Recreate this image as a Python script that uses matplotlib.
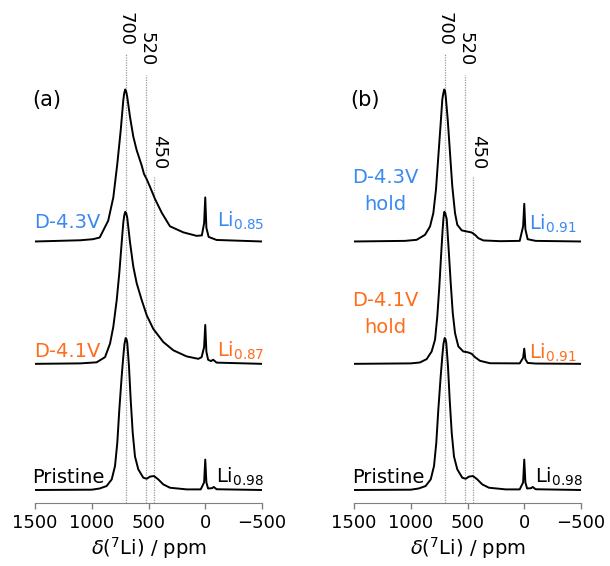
"""Stacked 7Li NMR spectra of pristine and delithiated samples, two panels."""

import matplotlib

matplotlib.use("Agg")
import matplotlib.pyplot as plt


# chemical shift (ppm) / normalised intensity
PRISTINE_PPM = [1500, 1000, 930, 869, 824, 795, 775, 757, 736, 722, 712, 701, 693, 687, 672, 657, 639,
                619, 590, 546, 516, 487, 452, 414, 370, 311, 164, 40, 10, 0, -10, -25, -60, -75, -100,
                -500]
PRISTINE_INT = [0, 0.002, 0.01, 0.026, 0.07, 0.158, 0.31, 0.53, 0.75, 0.88, 0.96, 1.0, 0.99, 0.967,
                0.814, 0.595, 0.376, 0.22, 0.136, 0.081, 0.074, 0.088, 0.092, 0.07, 0.037, 0.015,
                0.004, 0.004, 0.05, 0.20, 0.05, 0.01, 0.012, 0.02, 0.005, 0]

A_41_PPM = [1500, 1100, 957, 883, 839, 810, 780, 757, 736, 722, 714, 705, 696, 687, 663, 634, 604,
            560, 516, 458, 370, 281, 164, 61, 32, 10, 0, -10, -25, -50, -70, -100, -500]
A_41_INT = [0, 0.003, 0.01, 0.044, 0.133, 0.244, 0.42, 0.60, 0.80, 0.93, 0.975, 1.0, 0.99, 0.96,
            0.80, 0.64, 0.53, 0.42, 0.32, 0.23, 0.144, 0.089, 0.049, 0.033, 0.044, 0.11, 0.256,
            0.08, 0.027, 0.018, 0.027, 0.008, 0]

A_43_PPM = [1500, 1100, 990, 930, 855, 810, 775, 745, 722, 714, 705, 696, 687, 663, 634, 604, 560,
            540, 516, 487, 443, 384, 311, 193, 76, 30, 10, 0, -10, -30, -100, -500]
A_43_INT = [0, 0.008, 0.015, 0.026, 0.137, 0.29, 0.51, 0.73, 0.93, 0.975, 1.0, 0.985, 0.95, 0.82,
            0.69, 0.60, 0.50, 0.445, 0.41, 0.36, 0.28, 0.19, 0.10, 0.06, 0.037, 0.04, 0.12, 0.29,
            0.09, 0.03, 0.01, 0]

B_41_PPM = [1500, 1000, 919, 860, 816, 786, 766, 748, 733, 719, 711, 704, 696, 683, 666, 648, 630,
            610, 581, 537, 493, 463, 434, 390, 302, 40, 10, 0, -10, -30, -100, -500]
B_41_INT = [0, 0.003, 0.009, 0.031, 0.081, 0.159, 0.313, 0.511, 0.709, 0.885, 0.965, 1.0, 0.99,
            0.952, 0.753, 0.533, 0.335, 0.203, 0.115, 0.081, 0.075, 0.066, 0.044, 0.02, 0.004,
            0.003, 0.04, 0.10, 0.03, 0.006, 0.002, 0]

B_43_PPM = [1500, 1050, 948, 874, 830, 801, 778, 757, 736, 722, 713, 705, 698, 692, 674, 654, 634,
            610, 590, 551, 507, 463, 434, 405, 361, 214, 40, 10, 0, -10, -30, -100, -500]
B_43_INT = [0, 0.004, 0.011, 0.044, 0.099, 0.187, 0.34, 0.56, 0.78, 0.934, 0.975, 1.0, 0.99, 0.956,
            0.80, 0.58, 0.363, 0.187, 0.11, 0.073, 0.066, 0.059, 0.044, 0.022, 0.007, 0.002, 0.004,
            0.1, 0.248, 0.08, 0.015, 0.004, 0]

SAMPLE_LABELS_A = ["Pristine", "D-4.1V", "D-4.3V"]
SAMPLE_LABELS_B = ["Pristine", "D-4.1V\nhold", "D-4.3V\nhold"]
LI_LABELS_A = ["0.98", "0.87", "0.85"]
LI_LABELS_B = ["0.98", "0.91", "0.91"]
MARKER_PPM = [700, 520, 450]
X_TICKS = [1500, 1000, 500, 0, -500]

BLUE = "#3a89f2"
ORANGE = "#ff6c1c"
COLORS = ["black", ORANGE, BLUE]
OFFSETS = [0.0, 0.83, 1.635]
Y_LIM = (-0.0855, 3.2237)
PX = 1 / 152  # one pixel in data units (vertical)


def _draw_panel(axis, spectra, names, li_values, name_pos, li_pos, tag, tag_x, name_ha):
    for (ppm, inten), offset in zip(spectra, OFFSETS):
        axis.plot(ppm, [v + offset for v in inten], color="black", linewidth=1.4,
                  solid_joinstyle="round", zorder=3)

    line_tops = [2.875, 2.73, 2.06]
    label_x = [700, 520, 410]
    label_y = [3.03, 2.90, 2.22]
    for ppm, top, lx, ly in zip(MARKER_PPM, line_tops, label_x, label_y):
        axis.vlines(ppm, Y_LIM[0], top, colors="#9a9a9a", linestyles=(0, (1, 1)), linewidth=0.9, zorder=1)
        axis.text(lx, ly, str(ppm), rotation=270, ha="center", va="center", fontsize=13)

    for name, li, color, (nx, ny), (lx, ly) in zip(names, li_values, COLORS, name_pos, li_pos):
        axis.text(nx, ny, name, color=color, fontsize=14, ha=name_ha, va="baseline",
                  multialignment="center", linespacing=1.55)
        axis.text(lx, ly, rf"Li$_{{{li}}}$", color=color, fontsize=14, ha="right", va="baseline")

    axis.text(tag_x, (490 - 100) * PX, tag, fontsize=15, ha="left", va="center")

    axis.set_xlim(1500, -500)
    axis.set_ylim(*Y_LIM)
    axis.set_xticks(X_TICKS)
    axis.set_yticks([])
    for side in ("top", "left", "right"):
        axis.spines[side].set_visible(False)
    axis.spines["bottom"].set_color("#808080")
    axis.tick_params(axis="x", direction="out", length=4, width=1.0, color="#808080",
                     labelsize=13, pad=4)
    axis.set_xlabel(r"$\delta$($^{7}$Li) / ppm", fontsize=14, labelpad=2)
    axis.patch.set_alpha(0)


def main():
    fig = plt.figure(figsize=(6.1, 5.66), dpi=100)
    ax_a = fig.add_axes([35 / 610, 63 / 566, 227 / 610, 503 / 566])
    ax_b = fig.add_axes([354 / 610, 63 / 566, 227 / 610, 503 / 566])

    spectra_a = [(PRISTINE_PPM, PRISTINE_INT), (A_41_PPM, A_41_INT), (A_43_PPM, A_43_INT)]
    spectra_b = [(PRISTINE_PPM, PRISTINE_INT), (B_41_PPM, B_41_INT), (B_43_PPM, B_43_INT)]

    # label positions: (ppm, y) in data units, y from pixel rows of the baselines
    name_pos_a = [(885, (490 - 483) * PX), (927, (490 - 357) * PX), (927, (490 - 228) * PX)]
    li_pos_a = [(-520, (490 - 483) * PX), (-520, (490 - 357) * PX), (-520, (490 - 227) * PX)]
    _draw_panel(ax_a, spectra_a, SAMPLE_LABELS_A, LI_LABELS_A, name_pos_a, li_pos_a,
                "(a)", 1526, "right")

    name_pos_b = [(1200, (490 - 483) * PX), (1227, (490 - 333) * PX), (1227, (490 - 210) * PX)]
    li_pos_b = [(-520, (490 - 483) * PX), (-465, (490 - 359) * PX), (-465, (490 - 230) * PX)]
    _draw_panel(ax_b, spectra_b, SAMPLE_LABELS_B, LI_LABELS_B, name_pos_b, li_pos_b,
                "(b)", 1535, "center")

    fig.savefig("out.png", dpi=100)
    plt.close(fig)


if __name__ == "__main__":
    main()
